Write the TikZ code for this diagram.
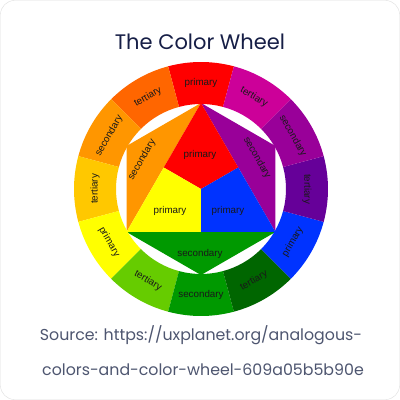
\documentclass[tikz,border=0pt]{standalone}
\usepackage{fontspec}
\setmainfont{Liberation Sans}
\newfontfamily\cardfont{Poppins}
\usepackage{tikz}
\usetikzlibrary{calc}
\definecolor{cardline}{RGB}{222, 222, 222}
\definecolor{titleblue}{RGB}{22, 30, 70}
\definecolor{srcgray}{RGB}{78, 86, 112}
\definecolor{wred}{RGB}{255, 0, 0}
\definecolor{wredorange}{RGB}{255, 102, 0}
\definecolor{worange}{RGB}{255, 150, 0}
\definecolor{wyelloworange}{RGB}{255, 200, 0}
\definecolor{wyellow}{RGB}{255, 255, 0}
\definecolor{wyellowgreen}{RGB}{102, 204, 0}
\definecolor{wgreen}{RGB}{0, 153, 0}
\definecolor{wdarkgreen}{RGB}{0, 102, 0}
\definecolor{wblue}{RGB}{0, 51, 255}
\definecolor{wviolet}{RGB}{102, 0, 153}
\definecolor{wpurple}{RGB}{153, 0, 153}
\definecolor{wmagenta}{RGB}{204, 0, 153}

\begin{document}
\begin{tikzpicture}[x=1pt, y=1pt,
	wlabel/.style={font=\fontsize{9.8}{10}\selectfont, text=black!90, inner sep=0pt}]
		\useasboundingbox (0,0) rectangle (400,400);
		\draw[cardline, fill=white, rounded corners=14pt] (0.5,0.5) rectangle (399.5,399.5);

		\node[font=\cardfont\fontsize{21}{24}\selectfont, text=titleblue] (title) at (200,358) {The Color Wheel};

		\begin{scope}[shift={(201,211)}]
		% inner pieces
		\coordinate (top) at (90:86pt);
		\coordinate (upright) at (30:86pt);
		\coordinate (lowright) at (-30:86pt);
		\coordinate (bottom) at (-90:86pt);
		\coordinate (lowleft) at (-150:86pt);
		\coordinate (upleft) at (150:86pt);
		\coordinate (mid) at (0,0);
		\coordinate (midleft) at ($(top)!0.5!(lowleft)$);
		\coordinate (midright) at ($(top)!0.5!(lowright)$);
		\coordinate (midbottom) at ($(lowleft)!0.5!(lowright)$);

		\fill[worange] (top) -- (upleft) -- (lowleft) -- cycle;
		\fill[wpurple] (top) -- (upright) -- (lowright) -- cycle;
		\fill[wgreen] (lowleft) -- (bottom) -- (lowright) -- cycle;
		\fill[wred] (top) -- (midleft) -- (mid) -- (midright) -- cycle;
		\fill[wyellow] (lowleft) -- (midleft) -- (mid) -- (midbottom) -- cycle;
		\fill[wblue] (lowright) -- (midright) -- (mid) -- (midbottom) -- cycle;

		\node[wlabel] (redlabel) at (-1,34) {primary};
		\node[wlabel] (yellowlabel) at (-31,-22) {primary};
		\node[wlabel] (bluelabel) at (27,-22) {primary};
		\node[wlabel, rotate=60] (orangelabel) at (-59,29) {secondary};
		\node[wlabel, rotate=-60] (purplelabel) at (56,31) {secondary};
		\node[wlabel] (greenlabel) at (-1,-65) {secondary};

		% outer ring
		\fill[wred] (75:127pt) arc[start angle=75, end angle=105, radius=127pt] -- (105:85pt) arc[start angle=105, end angle=75, radius=85pt] -- cycle;
		\fill[wredorange] (105:127pt) arc[start angle=105, end angle=135, radius=127pt] -- (135:85pt) arc[start angle=135, end angle=105, radius=85pt] -- cycle;
		\fill[worange] (135:127pt) arc[start angle=135, end angle=165, radius=127pt] -- (165:85pt) arc[start angle=165, end angle=135, radius=85pt] -- cycle;
		\fill[wyelloworange] (165:127pt) arc[start angle=165, end angle=195, radius=127pt] -- (195:85pt) arc[start angle=195, end angle=165, radius=85pt] -- cycle;
		\fill[wyellow] (195:127pt) arc[start angle=195, end angle=225, radius=127pt] -- (225:85pt) arc[start angle=225, end angle=195, radius=85pt] -- cycle;
		\fill[wyellowgreen] (225:127pt) arc[start angle=225, end angle=255, radius=127pt] -- (255:85pt) arc[start angle=255, end angle=225, radius=85pt] -- cycle;
		\fill[wgreen] (255:127pt) arc[start angle=255, end angle=285, radius=127pt] -- (285:85pt) arc[start angle=285, end angle=255, radius=85pt] -- cycle;
		\fill[wdarkgreen] (285:127pt) arc[start angle=285, end angle=315, radius=127pt] -- (315:85pt) arc[start angle=315, end angle=285, radius=85pt] -- cycle;
		\fill[wblue] (315:127pt) arc[start angle=315, end angle=345, radius=127pt] -- (345:85pt) arc[start angle=345, end angle=315, radius=85pt] -- cycle;
		\fill[wviolet] (345:127pt) arc[start angle=345, end angle=375, radius=127pt] -- (375:85pt) arc[start angle=375, end angle=345, radius=85pt] -- cycle;
		\fill[wpurple] (15:127pt) arc[start angle=15, end angle=45, radius=127pt] -- (45:85pt) arc[start angle=45, end angle=15, radius=85pt] -- cycle;
		\fill[wmagenta] (45:127pt) arc[start angle=45, end angle=75, radius=127pt] -- (75:85pt) arc[start angle=75, end angle=45, radius=85pt] -- cycle;

		\node[wlabel, rotate=0] (ringred) at (90:106pt) {primary};
		\node[wlabel, rotate=30] (ringredorange) at (120:106pt) {tertiary};
		\node[wlabel, rotate=60] (ringorange) at (150:106pt) {secondary};
		\node[wlabel, rotate=90] (ringyelloworange) at (180:106pt) {tertiary};
		\node[wlabel, rotate=-60] (ringyellow) at (210:106pt) {primary};
		\node[wlabel, rotate=-30] (ringyellowgreen) at (240:106pt) {tertiary};
		\node[wlabel, rotate=0] (ringgreen) at (270:106pt) {secondary};
		\node[wlabel, rotate=30] (ringdarkgreen) at (300:106pt) {tertiary};
		\node[wlabel, rotate=60] (ringblue) at (330:106pt) {primary};
		\node[wlabel, rotate=-90] (ringviolet) at (0:106pt) {tertiary};
		\node[wlabel, rotate=-60] (ringpurple) at (30:106pt) {secondary};
		\node[wlabel, rotate=-30] (ringmagenta) at (60:106pt) {tertiary};
		\end{scope}

		\node[font=\cardfont\fontsize{15.8}{18}\selectfont, text=srcgray] (source) at (201,65) {Source: https://uxplanet.org/analogous-};
		\node[font=\cardfont\fontsize{15.8}{18}\selectfont, text=srcgray] (sourcetail) at (203,30) {colors-and-color-wheel-609a05b5b90e};
	\end{tikzpicture}
\end{document}
